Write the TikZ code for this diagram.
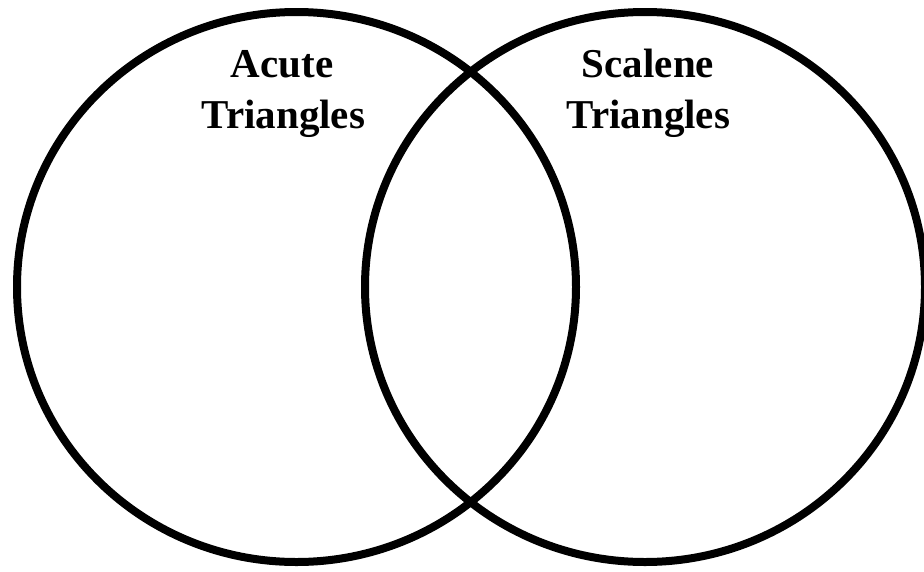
\documentclass[tikz,border=0pt]{standalone}
\usepackage{fontspec}
\setmainfont{Liberation Serif}
\begin{document}
\begin{tikzpicture}[x=1pt,y=-1pt,
  ring/.style={draw=black,line width=8pt},
  lbl/.style={font=\bfseries\fontsize{41}{52}\selectfont,inner sep=0pt,anchor=base}]
\useasboundingbox (0,0) rectangle (924,571);
\draw[ring] (296.5,287) ellipse [x radius=279.5pt, y radius=275pt];
\draw[ring] (645,287) ellipse [x radius=280pt, y radius=275pt];
\node[lbl] (la1) at (282,77) {Acute};
\node[lbl] (la2) at (283.5,128) {Triangles};
\node[lbl] (ls1) at (648,77) {Scalene};
\node[lbl] (ls2) at (648.5,128) {Triangles};
\end{tikzpicture}
\end{document}
